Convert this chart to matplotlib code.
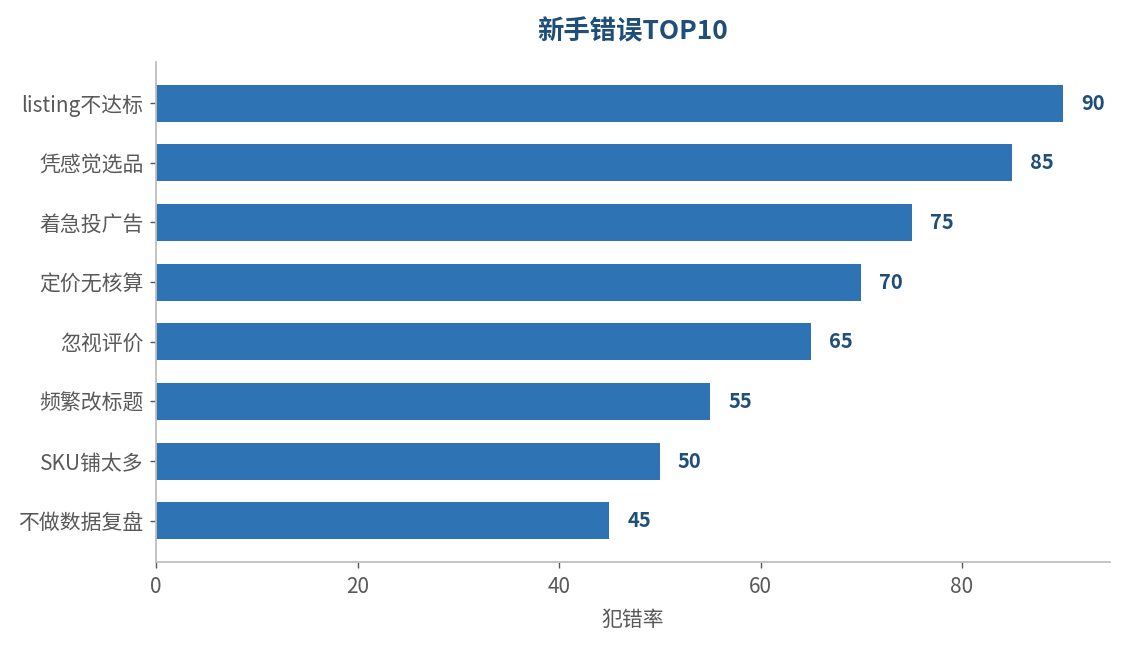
import matplotlib
matplotlib.use("Agg")
import matplotlib.pyplot as plt

categories = ["listing不达标", "凭感觉选品", "着急投广告", "定价无核算", "忽视评价", "频繁改标题", "SKU铺太多", "不做数据复盘"]
values = [90, 85, 75, 70, 65, 55, 50, 45]
xticks = [0, 20, 40, 60, 80]

plt.rcParams['font.family'] = ['Noto Sans CJK SC', 'DejaVu Sans']

fig = plt.figure(figsize=(11.24, 6.45), dpi=100)
ax = fig.add_axes([0.1388, 0.1287, 0.8487, 0.7753])

ypos = list(range(len(categories)))[::-1]
ax.barh(ypos, values, height=0.62, color="#2e74b5")
ax.set_yticks(ypos)
ax.set_yticklabels(categories)
ax.set_xticks(xticks)
ax.set_xlim(0, max(values) * 1.052)

for y, v in zip(ypos, values):
    ax.annotate(str(v), xy=(v, y), xytext=(13, 0), textcoords="offset points",
                ha="left", va="center", fontsize=14.5, fontweight="bold", color="#1f4e79")

for s in ["top", "right"]:
    ax.spines[s].set_visible(False)
for s in ["left", "bottom"]:
    ax.spines[s].set_color("#bfbfbf")
    ax.spines[s].set_linewidth(1.3)

ax.tick_params(axis="both", colors="#595959", labelsize=15, length=4, width=1)
ax.tick_params(axis="y", pad=5)
ax.tick_params(axis="x", pad=6)
ax.set_xlabel("犯错率", fontsize=15, color="#595959", labelpad=8)
ax.set_title("新手错误TOP10", fontsize=19, fontweight="bold", color="#1f4e79", pad=16)

fig.savefig("out.png", dpi=100)
